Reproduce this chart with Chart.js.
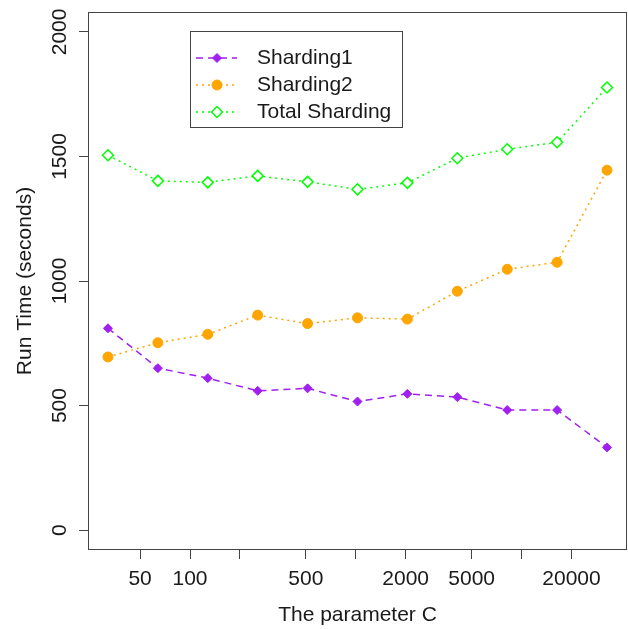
<!DOCTYPE html>
<html>
<head>
<meta charset="utf-8">
<script src="https://cdn.jsdelivr.net/npm/chart.js@4/dist/chart.umd.min.js"></script>
<style>
  html, body { margin: 0; padding: 0; background: #fff; }
</style>
</head>
<body>
<canvas id="chart" width="628" height="629"></canvas>
<script>
// values: C doubles from 32 up to 32768
const cValues = [32, 64, 128, 256, 512, 1024, 2048, 4096, 8192, 16384, 32768];
const sharding1 = [810, 650, 610, 559, 569, 516, 547, 534, 482, 482, 332];
const sharding2 = [695, 752, 786, 863, 829, 852, 847, 959, 1047, 1075, 1445];
const totalSharding = [1505, 1402, 1396, 1422, 1398, 1368, 1394, 1493, 1529, 1557, 1777];

const xTickValues = [50, 100, 200, 500, 1000, 2000, 5000, 10000, 20000];
const xTickLabels = ['50', '100', '', '500', '', '2000', '5000', '', '20000'];
const yTickValues = [0, 500, 1000, 1500, 2000];

const FONT = { family: '"Liberation Sans", Arial, sans-serif', size: 21 };
const TEXT = '#1a1a1a';
const AXIS = '#444';

function pts(values) {
    return values.map((v, i) => ({ x: cValues[i], y: v }));
}

// box around the plot region, like R's plot frame
const frame = {
    id: 'frame',
    afterDatasetsDraw(chart) {
        const a = chart.chartArea;
        const ctx = chart.ctx;
        ctx.save();
        ctx.strokeStyle = AXIS;
        ctx.lineWidth = 1;
        ctx.strokeRect(a.left + 0.5, a.top + 0.5, a.right - a.left - 1, a.bottom - a.top - 1);
        ctx.restore();
    }
};

// legend box in the upper left of the plot
const boxLegend = {
    id: 'boxLegend',
    afterDraw(chart) {
        const a = chart.chartArea;
        const ctx = chart.ctx;
        const left = a.left + 102, top = a.top + 19, right = a.left + 314, bottom = a.top + 115;
        ctx.save();
        ctx.strokeStyle = AXIS;
        ctx.lineWidth = 1;
        ctx.strokeRect(left + 0.5, top + 0.5, right - left, bottom - top);
        chart.data.datasets.forEach((ds, i) => {
            const y = top + 27 + i * 27;
            ctx.strokeStyle = ds.borderColor;
            ctx.lineWidth = ds.borderWidth;
            ctx.setLineDash(ds.borderDash || []);
            ctx.beginPath();
            ctx.moveTo(left + 6, y);
            ctx.lineTo(left + 47, y);
            ctx.stroke();
            ctx.setLineDash([]);
            ctx.fillStyle = ds.pointBackgroundColor;
            ctx.strokeStyle = ds.pointBorderColor;
            ctx.lineWidth = ds.pointBorderWidth;
            Chart.helpers.drawPoint(ctx, {
                pointStyle: ds.pointStyle, radius: ds.pointRadius, borderWidth: ds.pointBorderWidth, rotation: 0
            }, left + 27, y);
            ctx.fillStyle = TEXT;
            ctx.font = FONT.size + 'px ' + FONT.family;
            ctx.textBaseline = 'middle';
            ctx.fillText(ds.label, left + 67, y);
        });
        ctx.restore();
    }
};

new Chart(document.getElementById('chart'), {
    type: 'line',
    data: {
        datasets: [{
            label: 'Sharding1',
            data: pts(sharding1),
            borderColor: '#a020f0',
            borderWidth: 1.5,
            borderDash: [7, 5],
            pointStyle: 'rectRot',
            pointRadius: 4.5,
            pointBackgroundColor: '#a020f0',
            pointBorderColor: '#a020f0',
            pointBorderWidth: 1
        }, {
            label: 'Sharding2',
            data: pts(sharding2),
            borderColor: '#ffa500',
            borderWidth: 1.5,
            borderDash: [2, 4],
            pointStyle: 'circle',
            pointRadius: 5,
            pointBackgroundColor: '#ffa500',
            pointBorderColor: '#ffa500',
            pointBorderWidth: 1
        }, {
            label: 'Total Sharding',
            data: pts(totalSharding),
            borderColor: '#00ff00',
            borderWidth: 1.5,
            borderDash: [2, 4],
            pointStyle: 'rectRot',
            pointRadius: 5.5,
            pointBackgroundColor: '#ffffff',
            pointBorderColor: '#00ff00',
            pointBorderWidth: 1.5
        }]
    },
    options: {
        responsive: false,
        animation: false,
        layout: { autoPadding: false, padding: { top: 12, right: 1, left: 0, bottom: 0 } },
        plugins: {
            legend: { display: false },
            tooltip: { enabled: false }
        },
        scales: {
            x: {
                type: 'logarithmic',
                min: 24.25,
                max: 43250,
                border: { display: false },
                grid: { drawOnChartArea: false, drawTicks: true, tickLength: 9, tickColor: AXIS, color: AXIS },
                ticks: {
                    autoSkip: false, minRotation: 0, maxRotation: 0, padding: 8,
                    font: FONT, color: TEXT,
                    callback: (v, i) => xTickLabels[i]
                },
                afterBuildTicks: s => { s.ticks = xTickValues.map(v => ({ value: v })); },
                afterFit: s => { s.height = 79; s.paddingLeft = 0; s.paddingRight = 0; },
                title: { display: true, text: 'The parameter C', font: FONT, color: TEXT, padding: { top: 0, bottom: 1 } }
            },
            y: {
                min: -80,
                max: 2080,
                border: { display: false },
                grid: { drawOnChartArea: false, drawTicks: true, tickLength: 9, tickColor: AXIS, color: AXIS },
                ticks: {
                    minRotation: 90, maxRotation: 90, crossAlign: 'center', padding: -5,
                    font: FONT, color: TEXT,
                    callback: v => String(v)
                },
                afterBuildTicks: s => { s.ticks = yTickValues.map(v => ({ value: v })); },
                afterFit: s => { s.width = 88; s.paddingTop = 0; s.paddingBottom = 0; },
                title: { display: true, text: 'Run Time (seconds)', font: FONT, color: TEXT, padding: { top: 13, bottom: 0 } }
            }
        }
    },
    plugins: [frame, boxLegend]
});
</script>
</body>
</html>
